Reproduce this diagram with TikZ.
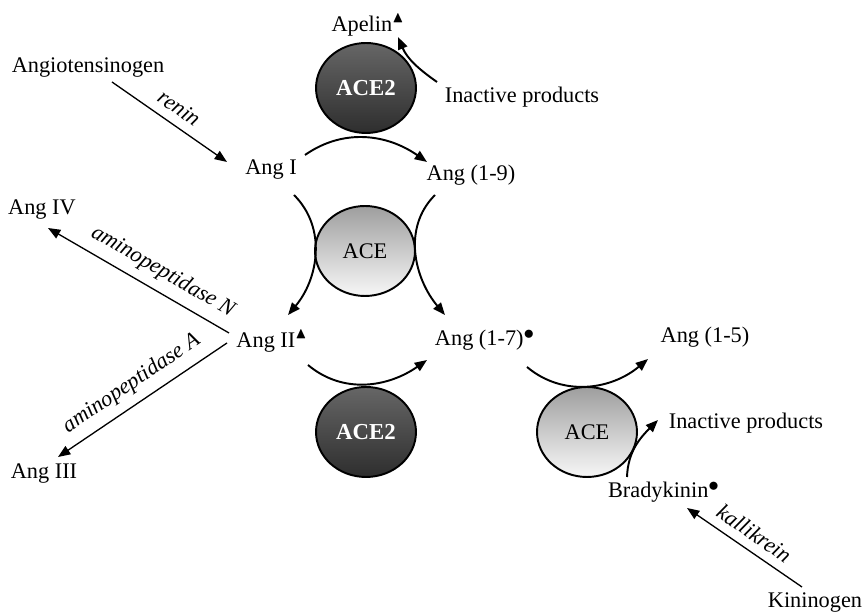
\documentclass[tikz,border=0pt]{standalone}
\usepackage{amssymb}
\usepackage{fontspec}
\setmainfont{Liberation Serif}
\usetikzlibrary{shapes.geometric, arrows.meta, calc}

\newcommand{\tri}{$^{\raisebox{1pt}{$\scriptstyle\blacktriangle$}}$}
\newcommand{\dotmark}{$^{\raisebox{-1pt}{$\textstyle\bullet$}}$}

\begin{document}
\begin{tikzpicture}[
                    x=0.02cm, y=0.02cm,
                    every node/.style={font=\fontsize{12.7}{15}\selectfont, inner sep=0pt},
                    enzyme/.style={ellipse, draw, line width=1.1pt, minimum width=2cm, minimum height=1.8cm},
                    ace/.style={enzyme, top color=black!38, bottom color=black!3},
                    acetwo/.style={enzyme, top color=black!60, bottom color=black!82, text=white, font=\fontsize{13}{15}\selectfont\bfseries},
                    conv/.style={line width=1.1pt, -{Triangle[length=7pt,width=5.5pt]}},
                    react/.style={line width=0.75pt, -{Triangle[length=7pt,width=5.5pt]}},
                    lbl/.style={font=\fontsize{12.7}{15}\selectfont\itshape, sloped, above=5pt}
                ]
  \useasboundingbox (0,0) rectangle (867,615);

  % enzymes
  \node[acetwo] (ace2a) at (366,527) {ACE2};
  \node[ace]    (acea)  at (365,364) {ACE};
  \node[acetwo] (ace2b) at (366,183) {ACE2};
  \node[ace]    (aceb)  at (587,183) {ACE};

  % peptides
  \node (apelin) at (368,590) {Apelin\tri};
  \node (inacta) at (522,518) {Inactive products};
  \node (angio)  at (88,547)  {Angiotensinogen};
  \node (angI)   at (271,445) {Ang I};
  \node (ang19)  at (471,440) {Ang (1-9)};
  \node (angIV)  at (42,405)  {Ang IV};
  \node (angII)  at (272,274) {Ang II\tri};
  \node (ang17)  at (485,275) {Ang (1-7)\dotmark};
  \node (ang15)  at (705,278) {Ang (1-5)};
  \node (inactb) at (746,192) {Inactive products};
  \node (angIII) at (44,141)  {Ang III};
  \node (brady)  at (664,123) {Bradykinin\dotmark};
  \node (kinin)  at (815,12)  {Kininogen};

  % straight reactions
  \draw[react] ($(angio)+(24,-14)$) -- node[lbl] {renin} ($(angI)+(-44,8)$);
  \draw[react] ($(angII)+(-43,8)$) -- node[lbl, pos=0.42] {aminopeptidase N} ($(angIV)+(6,-18)$);
  \draw[react] ($(angII)+(-45,-2)$) -- node[lbl] {aminopeptidase A} ($(angIII)+(14,17)$);
  \draw[react] ($(kinin)+(-13,16)$) -- node[lbl] {kallikrein} ($(brady)+(23,-16)$);

  % curved conversions
  \draw[conv] ($(angI)+(34,15)$) to[out=35, in=145] ($(ang19)+(-44,13)$);
  \draw[conv] ($(angI)+(23,-25)$) to[out=-45, in=50] ($(angII)+(16,26)$);
  \draw[conv] ($(ang19)+(-36,-20)$) to[out=-135, in=130] ($(ang17)+(-40,25)$);
  \draw[conv] ($(angII)+(36,-24)$) to[out=-40, in=-145] ($(ang17)+(-58,-20)$);
  \draw[conv] ($(ang17)+(42,-27)$) to[out=-40, in=-140] ($(ang15)+(-57,-22)$);
  \draw[conv] ($(inacta)+(-85,15)$) to[out=145, in=-67] ($(apelin)+(30,-12)$);
  \draw[conv] ($(brady)+(-37,15)$) to[out=88, in=-135] ($(inactb)+(-88,3)$);
\end{tikzpicture}
\end{document}
